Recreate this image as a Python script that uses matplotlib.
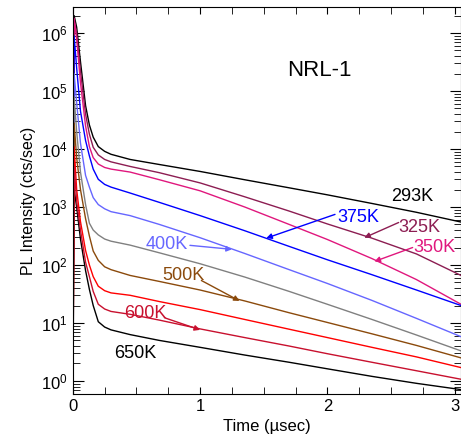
import math
import matplotlib
matplotlib.use("Agg")
import matplotlib.pyplot as plt
from matplotlib.ticker import FixedLocator, LogLocator, FuncFormatter, NullFormatter

plt.rcParams['font.family'] = ['Liberation Sans', 'DejaVu Sans']
plt.rcParams['mathtext.fontset'] = 'custom'
plt.rcParams['mathtext.rm'] = 'Liberation Sans'
plt.rcParams['mathtext.it'] = 'Liberation Sans:italic'

t = [0, 0.01, 0.03, 0.06, 0.1, 0.13, 0.16, 0.2, 0.25, 0.3, 0.45, 0.68,
     1.0, 1.35, 1.7, 2.0, 2.35, 2.7, 3.05]

# PL intensity (cts/sec) per temperature
pl_293 = [0.3, 2.0e6, 1.26e6, 3.2e5, 5.6e4, 2.6e4, 1.6e4, 1.1e4, 9.1e3, 8.1e3, 6.6e3, 5.4e3,
          4.1e3, 2.95e3, 2.14e3, 1.62e3, 1.15e3, 810, 550]
pl_325 = [0.3, 1.6e6, 1.0e6, 2.2e5, 4.0e4, 1.8e4, 1.07e4, 7.9e3, 6.6e3, 6.0e3, 5.0e3, 3.9e3,
          2.6e3, 1.5e3, 850, 510, 290, 155, 66]
pl_350 = [0.3, 1.8e6, 7.9e5, 1.4e5, 2.5e4, 1.1e4, 7.1e3, 5.5e3, 4.8e3, 4.5e3, 4.0e3, 2.95e3,
          1.9e3, 1.0e3, 500, 275, 129, 56, 21]
pl_375 = [0.3, 8.9e5, 2.5e5, 4.5e4, 1.4e4, 7.6e3, 4.5e3, 3.0e3, 2.45e3, 2.2e3, 1.74e3, 1.2e3,
          710, 390, 209, 123, 68, 37, 20]
pl_400 = [0.3, 2.0e5, 6.3e4, 1.26e4, 3.5e3, 2.2e3, 1.45e3, 1.1e3, 930, 830, 710, 500,
          295, 158, 83, 48, 24.5, 12, 5.8]
pl_450 = [0.3, 7.9e4, 2.0e4, 4.0e3, 1.1e3, 525, 400, 330, 280, 257, 220, 162,
          105, 62, 35, 21, 11.5, 6.2, 3.3]
pl_500 = [0.3, 2.8e4, 7.1e3, 2.0e3, 630, 316, 174, 120, 93, 83, 66, 52,
          37, 24, 15, 10.2, 6.5, 4.1, 2.5]
pl_550 = [0.3, 1.1e4, 2.0e3, 560, 178, 100, 63, 43, 36, 33, 30, 23.4,
          17, 11.5, 7.8, 5.6, 3.8, 2.6, 1.7]
pl_600 = [0.3, 5.0e3, 1.26e3, 400, 112, 63, 35, 21, 17.4, 15.8, 14.1, 11.2,
          7.9, 5.6, 4.0, 2.95, 2.1, 1.5, 1.07]
pl_650 = [0.3, 2.0e3, 1.0e3, 280, 80, 38, 20, 10.5, 8.5, 7.6, 6.3, 5.0,
          3.8, 2.8, 2.1, 1.62, 1.2, 0.91, 0.71]

c_293, c_325, c_350, c_375, c_400 = "black", "#8c1d52", "#e0177d", "#0000ff", "#6666ff"
c_450, c_500, c_550, c_600, c_650 = "#808080", "#8b4a0c", "#ff0000", "#c8102e", "black"

fig = plt.figure(figsize=(4.61, 4.42), dpi=100)
ax = fig.add_axes([0.158, 0.109, 0.842, 0.875])

curves = [(pl_293, c_293), (pl_325, c_325), (pl_350, c_350), (pl_375, c_375),
          (pl_400, c_400), (pl_450, c_450), (pl_500, c_500), (pl_650, c_650),
          (pl_550, c_550), (pl_600, c_600)]
for vals, col in curves:
    ax.plot(t, vals, color=col, lw=1.0)

ax.set_yscale("log")
ax.set_xlim(0, 3.05)
ax.set_ylim(0.6, 2.8e6)

ax.xaxis.set_major_locator(FixedLocator([0, 1, 2, 3]))
ax.xaxis.set_minor_locator(FixedLocator([0.25, 0.5, 0.75, 1.25, 1.5, 1.75, 2.25, 2.5, 2.75]))
ax.yaxis.set_major_locator(LogLocator(base=10, numticks=12))
ax.yaxis.set_minor_locator(LogLocator(base=10, subs=range(2, 10), numticks=12))
ax.yaxis.set_major_formatter(FuncFormatter(lambda v, p: r"$\mathregular{10^{%d}}$" % round(math.log10(v))))
ax.yaxis.set_minor_formatter(NullFormatter())
ax.tick_params(which="both", direction="in", top=True, right=True, labelsize=12)
ax.tick_params(axis="x", which="both", length=5)
ax.tick_params(axis="y", which="major", length=8)
ax.tick_params(axis="y", which="minor", length=5)

ax.set_xlabel("Time (\u00b5sec)", fontsize=12)
ax.set_ylabel("PL Intensity (cts/sec)", fontsize=11.5)

ax.text(1.94, 2.3e5, "NRL-1", fontsize=16, ha="center", va="center")

# labels: text, position, color, arrow tail, arrow head
labels = [
    ("293K", (2.67, 1.5e3), c_293, None, None),
    ("375K", (2.24, 660), c_375, (2.06, 745), (1.52, 290)),
    ("325K", (2.72, 447), c_325, (2.56, 540), (2.29, 295)),
    ("350K", (2.84, 200), c_350, (2.67, 200), (2.37, 115)),
    ("400K", (0.74, 224), c_400, (0.92, 218), (1.25, 186)),
    ("500K", (0.87, 66), c_500, (1.01, 54), (1.31, 24)),
    ("600K", (0.57, 14.5), c_600, (0.72, 12.3), (1.0, 7.6)),
    ("650K", (0.49, 3.0), c_650, None, None),
]
for txt, pos, col, tail, head in labels:
    ax.text(pos[0], pos[1], txt, color=col, fontsize=13, ha="center", va="center")
    if tail is not None:
        ax.annotate("", xy=head, xytext=tail,
                    arrowprops=dict(arrowstyle="-|>", color=col, lw=1.0, mutation_scale=8,
                                    shrinkA=0, shrinkB=0))

plt.savefig("out.png", dpi=100)
